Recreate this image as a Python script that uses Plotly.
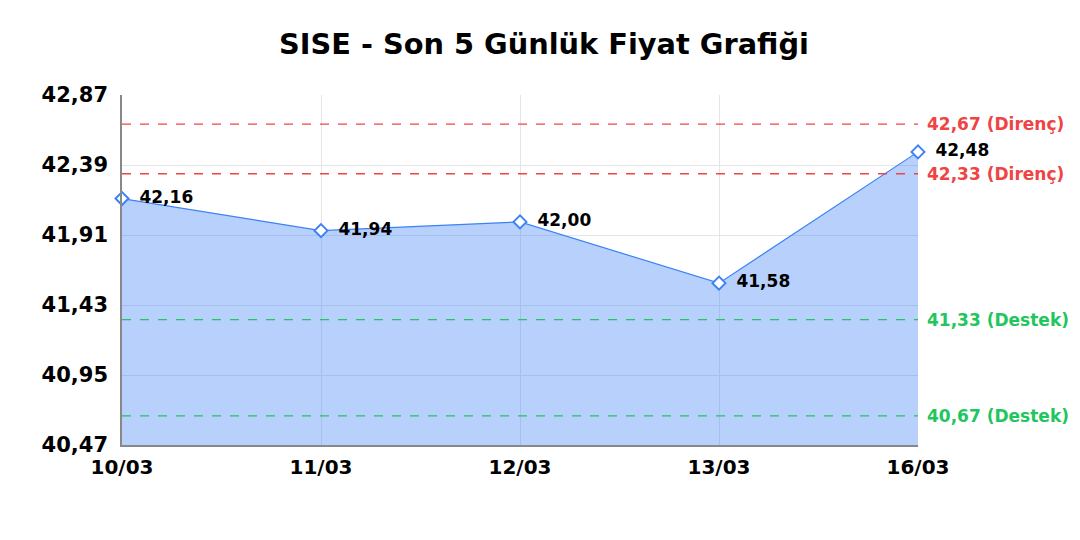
import plotly.graph_objects as go

dates = ["10/03", "11/03", "12/03", "13/03", "16/03"]
prices = [42.16, 41.94, 42.00, 41.58, 42.48]
resist = [42.67, 42.33]
support = [41.33, 40.67]
y_ticks = [40.47, 40.95, 41.43, 41.91, 42.39, 42.87]

blue = "#3b82f6"
red = "#ef4444"
green = "#22c55e"
font = "DejaVu Sans"

fig = go.Figure()
fig.add_trace(go.Scatter(
    x=dates, y=prices, mode="lines+markers+text",
    fill="tozeroy", fillcolor="rgba(59,130,246,0.37)",
    line=dict(color=blue, width=1.2),
    marker=dict(symbol="diamond", size=10, color="white", line=dict(color=blue, width=2)),
    text=["\u2002\u200a" + f"{p:.2f}".replace(".", ",") for p in prices],
    textposition="middle right",
    textfont=dict(family=font, size=17, color="black", weight="bold"),
    cliponaxis=False, showlegend=False,
))

# destek / direnc seviyeleri
for vals, col, lab in [(resist, red, "Direnç"), (support, green, "Destek")]:
    for v in vals:
        fig.add_shape(type="line", xref="paper", x0=0, x1=1, yref="y", y0=v, y1=v,
                      line=dict(color=col, width=1.3, dash="dash"))
        fig.add_annotation(xref="paper", x=1, y=v, xanchor="left", showarrow=False,
                           xshift=7, text=f"{v:.2f}".replace(".", ",") + f" ({lab})",
                           font=dict(family=font, size=17, color=col, weight="bold"))

fig.update_layout(
    width=1072, height=524,
    margin=dict(l=114, r=162, t=87, b=87),
    paper_bgcolor="white", plot_bgcolor="white",
    separators=",.",
    title=dict(text="SISE - Son 5 Günlük Fiyat Grafiği", x=0.5, xanchor="center",
               y=0.931, yanchor="middle",
               font=dict(family=font, size=28.8, color="black", weight="bold")),
    xaxis=dict(type="category", range=[0, 4], showgrid=True, gridcolor="#e5e5e5",
               showline=True, linecolor="#888", linewidth=1.5, ticks="",
               automargin=False, ticklabelstandoff=3,
               tickfont=dict(family=font, size=20, color="black", weight="bold")),
    yaxis=dict(range=[40.47, 42.87], tickvals=y_ticks, tickformat=".2f",
               showgrid=True, gridcolor="#e5e5e5", zeroline=False,
               showline=True, linecolor="#888", linewidth=1.5, ticks="",
               automargin=False, ticklabelstandoff=8,
               tickfont=dict(family=font, size=21, color="black", weight="bold")),
)

fig.write_html("out.html")
